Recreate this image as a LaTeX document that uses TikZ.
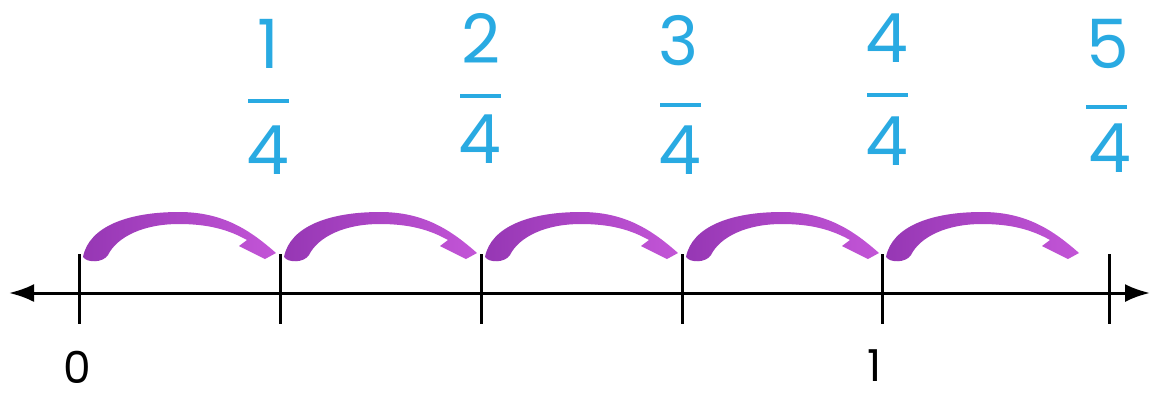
\documentclass[tikz,border=0pt]{standalone}
\usepackage{fontspec}
\newfontfamily\pop{Poppins}
\usetikzlibrary{arrows.meta,calc}
\definecolor{fracblue}{RGB}{41,170,226}
\definecolor{hopdark}{RGB}{150,55,180}
\definecolor{hoplight}{RGB}{195,85,215}
\tikzset{
  axisline/.style={line width=3pt, black, {Latex[length=25pt,width=18pt]}-{Latex[length=25pt,width=18pt]}},
  tickline/.style={line width=3pt, black},
  num/.style={inner sep=0pt, text=fracblue, font=\pop\fontsize{68}{68}\selectfont},
  fbar/.style={fill=fracblue, draw=none, minimum width=41pt, minimum height=3.8pt, inner sep=0pt},
  lab/.style={inner sep=0pt, text=black, font=\pop\fontsize{44}{44}\selectfont},
  hopfill/.style={left color=hopdark, right color=hoplight, draw=none}
}
\begin{document}
\begin{tikzpicture}[x=1pt,y=-1pt]
\useasboundingbox[fill=white] (0,0) rectangle (1151,392);
% axis
\coordinate (L) at (9,293);
\coordinate (R) at (1150,293);
\draw[axisline] (L) -- (R);
% ticks
\foreach \n/\x in {0/79,1/280,2/481,3/682,4/882,5/1109}{
  \coordinate (t\n) at (\x,293);
  \draw[tickline] ($(t\n)+(0,-39)$) -- ($(t\n)+(0,31)$);
}
% hops
\foreach \n in {0,1,2,3,4}{
  \begin{scope}[shift={(t\n)}]
    \shade[hopfill] (4,-36) .. controls (10,-67) and (50,-81) .. (100,-81)
      .. controls (145,-81) and (172,-62) .. (197,-40)
      -- (186,-34) -- (160,-47) -- (168,-53)
      .. controls (150,-63) and (130,-69) .. (100,-69)
      .. controls (64,-69) and (38,-56) .. (29,-38)
      .. controls (24,-30) and (8,-30) .. (4,-36) -- cycle;
  \end{scope}
}
% labels
\node[lab] (z0) at (77,367) {0};
\node[lab] (z1) at (875,366) {1};
% fractions
\node[num] (a1) at (268,44) {1};
\node[fbar] (b1) at (268,101) {};
\node[num] (c1) at (268,150) {4};
\node[num] (a2) at (481,38) {2};
\node[fbar] (b2) at (480,96) {};
\node[num] (c2) at (480,139) {4};
\node[num] (a3) at (679,41) {3};
\node[fbar] (b3) at (680,105) {};
\node[num] (c3) at (680,150) {4};
\node[num] (a4) at (887,38) {4};
\node[fbar] (b4) at (887,95) {};
\node[num] (c4) at (887,141) {4};
\node[num] (a5) at (1108,44) {5};
\node[fbar] (b5) at (1106,107) {};
\node[num] (c5) at (1110,148) {4};
\end{tikzpicture}
\end{document}
